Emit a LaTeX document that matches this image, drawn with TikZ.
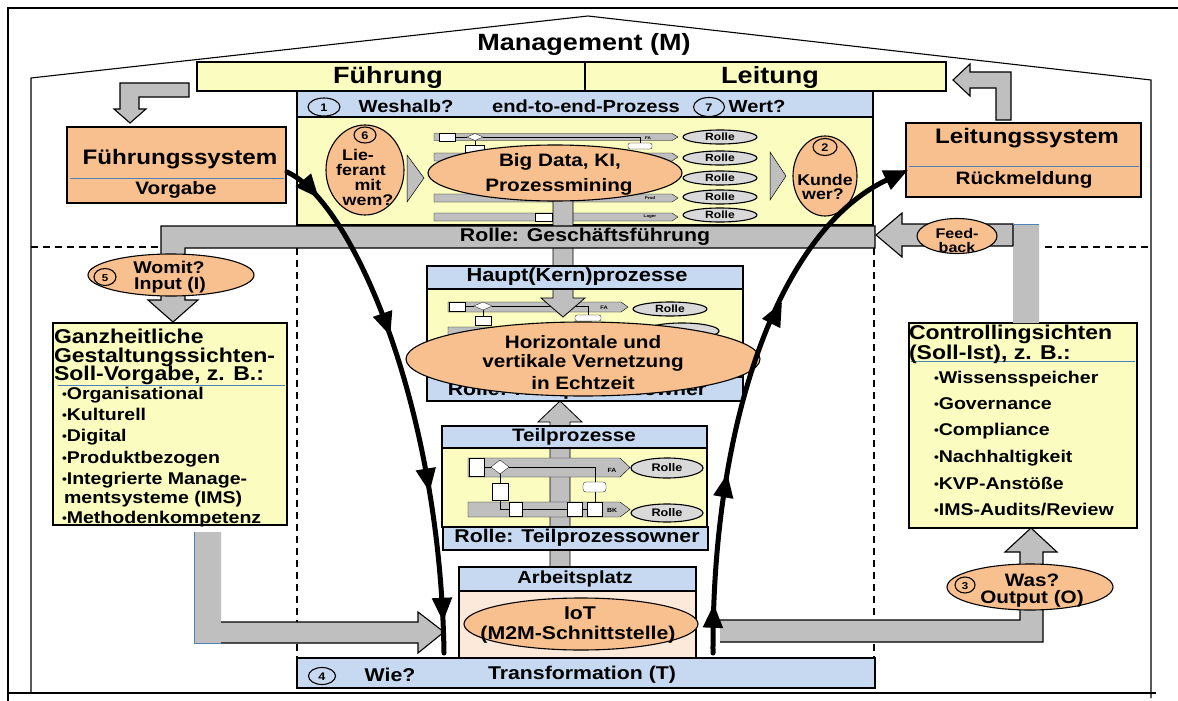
\documentclass[tikz,border=0pt]{standalone}
\usepackage{fontspec}
\setmainfont{Liberation Sans}[FakeStretch=1.15]
\usetikzlibrary{shapes.geometric,arrows.meta,decorations.markings}
\definecolor{cyel}{RGB}{250,252,192}
\definecolor{cblue}{RGB}{198,217,240}
\definecolor{corange}{RGB}{249,192,143}
\definecolor{cgray}{RGB}{191,191,191}
\definecolor{cpeach}{RGB}{253,233,217}
\definecolor{clg}{RGB}{217,217,217}
\definecolor{cline}{RGB}{79,129,189}
\newcommand{\fz}[1]{\fontsize{#1}{#1}\selectfont\bfseries}
\newcommand{\bul}{{\fontsize{12}{12}\selectfont\raisebox{1pt}{•}}}
\newcommand{\lane}[5]{\draw[fill=cgray, line width=0.4pt] (#1,{#3-#4/2}) -- (#2,{#3-#4/2}) -- ({#2+#5},#3) -- (#2,{#3+#4/2}) -- (#1,{#3+#4/2}) -- cycle;}
\newcommand{\wb}[4]{\draw[fill=white, line width=0.3pt] (#1,#2) rectangle (#3,#4);}
\begin{document}
\begin{tikzpicture}[x=1pt,y=-1pt,
  t/.style={font=\fz{#1}, inner sep=0pt, outer sep=0pt},
  ob/.style={draw=black, line width=1.1pt},
  ell/.style={ellipse, draw=black, line width=1.1pt, inner sep=0pt, outer sep=0pt},
  garrow/.style={fill=cgray, draw=black, line width=1.1pt},
  dsh/.style={line width=1.4pt, dash pattern=on 7pt off 5pt},
  curve/.style={line width=5pt, draw=black, line cap=round},
  mk/.style={postaction={decorate}},
  tri/.tip={Triangle[length=24pt,width=19pt]}
  ]
\useasboundingbox (0,0) rectangle (1178,701);
\fill[white] (0,0) rectangle (1178,701);
% frame and house
\draw[line width=2.5pt] (8,701) -- (8,8) -- (1178,8);
\draw[line width=1.8pt] (8,693) -- (1156,693);
\draw[line width=1.1pt] (31,693) -- (31,78) -- (588,16) -- (1151,80) -- (1151,698);
% dashed lines
\draw[dsh] (31,247) -- (161,247);
\draw[dsh] (1045,247) -- (1151,247);
\draw[dsh] (297,248) -- (297,688);
\draw[dsh] (874,248) -- (874,688);
% Management
\node[t=23.5] (mgmt) at (584,44) {Management (M)};
\draw[ob, fill=cyel] (197,62) rectangle (946,91);
\draw[line width=1.1pt] (585,62) -- (585,91);
\node[t=23.5] (fuehr) at (388,77) {Führung};
\node[t=23.5] (leit) at (770,77) {Leitung};
% grey arrows top
\draw[garrow] (189,83) -- (120,83) -- (120,109) -- (114,109) -- (130,123) -- (146,109) -- (139,109) -- (139,97) -- (189,97) -- cycle;
\draw[garrow] (1011,120) -- (1011,72) -- (970,72) -- (970,64) -- (953,80) -- (970,96) -- (970,88) -- (996,88) -- (996,120) -- cycle;
% Fuehrungssystem
\draw[ob, fill=corange] (67,127) rectangle (286,203);
\draw[cline, line width=0.8pt] (70,178) -- (284,178);
\node[t=21] (fsys) at (180,159) {Führungssystem};
\node[t=18] (vorg) at (176,190) {Vorgabe};
% Leitungssystem
\draw[ob, fill=corange] (906,123) rectangle (1141,197);
\draw[cline, line width=0.8pt] (909,166) -- (1139,166);
\node[t=21] (lsys) at (1027,138) {Leitungssystem};
\node[t=18] (rueck) at (1024,180) {Rückmeldung};
% top process area
\draw[ob, fill=cyel] (297,117) rectangle (873,225);
\draw[ob, fill=cblue] (297,91) rectangle (873,117);
\node[ell, minimum width=32pt, minimum height=18pt] (c1) at (324,107) {};
\node[t=11] (n1) at (324,108) {1};
\node[t=17.5] (wesh) at (406,106) {Weshalb?};
\node[t=17.5] (e2e) at (586,106) {end-to-end-Prozess};
\node[ell, minimum width=31pt, minimum height=19pt] (c7) at (709,107) {};
\node[t=11] (n7) at (709,108) {7};
\node[t=17.5] (wert) at (757,106) {Wert?};
\lane{434}{672}{137}{7}{6}
\lane{434}{672}{157}{8}{6}
\lane{434}{672}{177}{8}{6}
\lane{434}{672}{198}{8}{6}
\lane{434}{672}{217}{8}{6}
\wb{439}{133}{455}{141}
\draw[fill=white, line width=0.3pt] (467,137) -- (475,133.5) -- (483,137) -- (475,140.5) -- cycle;
\draw[line width=0.3pt] (455,137) -- (467,137) (475,140.5) -- (475,145) (483,137) -- (640,137) -- (640,143);
\wb{465}{145}{484}{152}
\draw[fill=white, line width=0.3pt, rounded corners=2pt] (628,143) rectangle (652,149);
\wb{535}{213}{552}{221}
\node[t=4] (fa0) at (648,138) {FA};
\node[t=4] (prod0) at (650,198) {Prod};
\node[t=4] (lag0) at (650,217) {Lager};
% Haupt body
\draw[ob, fill=cyel] (427,289) rectangle (743,401);
\lane{448}{621}{307}{10}{7}
\lane{448}{640}{334}{14}{7}
\wb{449}{302}{465}{311}
\draw[fill=white, line width=0.3pt] (474,306) -- (483,302) -- (492,306) -- (483,310) -- cycle;
\draw[line width=0.3pt] (465,306) -- (474,306) (483,310) -- (483,316) (492,306) -- (588,306) -- (588,315);
\wb{475}{316}{491}{325}
\draw[fill=white, line width=0.3pt, rounded corners=2pt] (575,315) rectangle (601,321);
\node[t=5] (fa1) at (604,308) {FA};
\node[ell, fill=clg, minimum width=74pt, minimum height=14pt] (rh1) at (670,309) {};
\node[t=10.5] (rh1t) at (670,309) {Rolle};
\node[ell, fill=clg, minimum width=74pt, minimum height=16pt] (rh2) at (682,331) {};
% down shaft
\draw[garrow, line width=0.8pt] (553,200) -- (573,200) -- (573,298) -- (585,298) -- (563,317) -- (541,298) -- (553,298) -- cycle;
% ellipses in top area
\node[ell, fill=corange, minimum width=254pt, minimum height=56pt] (bigd) at (555,173) {};
\node[t=18] (bigd1) at (560,162) {Big Data, KI,};
\node[t=18] (bigd2) at (559,187) {Prozessmining};
\node[ell, fill=corange, minimum width=78pt, minimum height=90pt] (lief) at (365,170) {};
\node[ell, minimum width=22pt, minimum height=16pt] (c6) at (365,135) {};
\node[t=11] (n6) at (365,136) {6};
\node[t=15.5] (lief1) at (358,155) {Lie-};
\node[t=15.5] (lief2) at (361,170) {ferant};
\node[t=15.5] (lief3) at (368,185) {mit};
\node[t=15.5] (lief4) at (368,200) {wem?};
\draw[fill=cgray, line width=0.5pt] (407,155) -- (424,178) -- (407,202) -- cycle;
\draw[fill=cgray, line width=0.5pt] (770,152) -- (786,176) -- (770,200) -- cycle;
\foreach \yy/\nm in {137/ra,158/rb,178/rc,197/rd,215/re}{
  \node[ell, fill=clg, minimum width=74pt, minimum height=14pt] (\nm) at (720,\yy) {};
  \node[t=10.5] (\nm t) at (720,\yy) {Rolle};
}
\node[ell, fill=corange, minimum width=64pt, minimum height=80pt] (kunde) at (825,176) {};
\node[ell, minimum width=24pt, minimum height=17pt] (c2) at (825,147) {};
\node[t=11] (n2) at (825,148) {2};
\node[t=15.5] (kunde1) at (825,180) {Kunde};
\node[t=15.5] (kunde2) at (823,194) {wer?};
% grey bar Rolle: Geschaeftsfuehrung
\draw[garrow] (875,226) -- (161,226) -- (161,300) -- (148,300) -- (173,322) -- (198,300) -- (185,300) -- (185,248) -- (875,248) -- cycle;
\node[t=18.5] (gf) at (585,237) {Rolle: Geschäftsführung};
\node[ell, fill=corange, minimum width=166pt, minimum height=42pt] (womit) at (171,275) {};
\node[ell, minimum width=22pt, minimum height=17pt] (c5) at (105,277) {};
\node[t=10] (n5) at (105,278) {5};
\node[t=17] (womit1) at (169,267) {Womit?};
\node[t=17] (womit2) at (170,285) {Input (I)};
% Haupt header/footer
\draw[ob, fill=cblue] (427,266) rectangle (743,289);
\node[t=19] (haupt) at (577,277) {Haupt(Kern)prozesse};
\draw[ob, fill=cblue] (427,377) rectangle (743,401);
\node[t=18.5] (kpo) at (577,391) {Rolle: Kernprozessowner};
\node[ell, fill=corange, minimum width=354pt, minimum height=74pt] (horiz) at (583,359) {};
\node[t=18] (hz1) at (583,342) {Horizontale und};
\node[t=18] (hz2) at (583,363) {vertikale Vernetzung};
\node[t=18] (hz3) at (583,383) {in Echtzeit};
% Teilprozesse
\draw[ob, fill=cyel] (442,448) rectangle (707,527);
\draw[garrow, line width=0.8pt] (550,567) -- (550,422) -- (538,422) -- (560,401) -- (582,422) -- (570,422) -- (570,567) -- cycle;
\lane{468}{620}{467.5}{19}{10}
\lane{468}{620}{509.5}{15}{10}
\wb{469}{458}{484}{476}
\draw[fill=white, line width=0.3pt] (491,467) -- (500,460) -- (509,467) -- (500,474) -- cycle;
\draw[line width=0.4pt] (484,467) -- (491,467) (509,467) -- (595,467) -- (595,482) (500,474) -- (500,483) (500,500) -- (500,509) -- (509,509) (522,509) -- (567,509) (582,509) -- (587,509) (595,492) -- (595,502);
\wb{492}{483}{508}{500}
\draw[fill=white, line width=0.3pt, rounded corners=3pt] (583,482) rectangle (606,492);
\wb{509}{502}{522}{516}
\wb{567}{502}{582}{516}
\wb{587}{502}{602}{516}
\node[t=6] (fa2) at (612,470) {FA};
\node[t=6] (bk2) at (612,510) {BK};
\node[ell, fill=clg, minimum width=72pt, minimum height=20pt] (rt1) at (667,468) {};
\node[t=11] (rt1t) at (667,468) {Rolle};
\node[ell, fill=clg, minimum width=72pt, minimum height=18pt] (rt2) at (667,513) {};
\node[t=11] (rt2t) at (667,513) {Rolle};
\draw[ob, fill=cblue] (442,426) rectangle (707,448);
\node[t=18] (teil) at (574,437) {Teilprozesse};
\draw[ob, fill=cblue] (443,527) rectangle (708,550);
\node[t=18.5] (tpo) at (577,538) {Rolle: Teilprozessowner};
% Arbeitsplatz
\draw[ob, fill=cpeach] (459,591) rectangle (696,658);
\draw[ob, fill=cblue] (459,567) rectangle (696,591);
\node[t=17.5] (arb) at (575,579) {Arbeitsplatz};
\node[ell, fill=corange, minimum width=234pt, minimum height=52pt] (iot) at (581,624) {};
\node[t=18.5] (iot1) at (580,613) {IoT};
\node[t=18.5] (iot2) at (578,635) {(M2M-Schnittstelle)};
% bottom bar
\draw[ob, fill=cblue] (297,658) rectangle (875,688);
\node[ell, minimum width=27pt, minimum height=17pt] (c4) at (322,676) {};
\node[t=11] (n4) at (322,677) {4};
\node[t=18.5] (wie) at (390,675) {Wie?};
\node[t=18.5] (trans) at (582,675) {Transformation (T)};
% Ganzheitliche
\draw[ob, fill=cyel] (53,323) rectangle (287,525);
\draw[cline, line width=0.8pt] (58,385) -- (285,385);
\node[t=20, anchor=base west] (g1) at (54,343) {Ganzheitliche};
\node[t=20, anchor=base west] (g2) at (54,362) {Gestaltungssichten-};
\node[t=20, anchor=base west] (g3) at (54,380) {Soll-Vorgabe, z. B.:};
\node[t=17, anchor=base west] (g4) at (62,399) {\bul Organisational};
\node[t=17, anchor=base west] (g5) at (62,420) {\bul Kulturell};
\node[t=17, anchor=base west] (g6) at (62,441) {\bul Digital};
\node[t=17, anchor=base west] (g7) at (62,463) {\bul Produktbezogen};
\node[t=17, anchor=base west] (g8) at (62,484) {\bul Integrierte Manage-};
\node[t=17, anchor=base west] (g9) at (64,503) {mentsysteme (IMS)};
\node[t=17, anchor=base west] (g10) at (62,523) {\bul Methodenkompetenz};
% Controlling
\draw[ob, fill=cyel] (909,323) rectangle (1137,528);
\draw[cline, line width=0.8pt] (911,361) -- (1135,361);
\node[t=20, anchor=base west] (k1) at (909,339) {Controllingsichten};
\node[t=20, anchor=base west] (k2) at (909,359) {(Soll-Ist), z. B.:};
\node[t=17, anchor=base west] (k3) at (934,383) {\bul Wissensspeicher};
\node[t=17, anchor=base west] (k4) at (934,409) {\bul Governance};
\node[t=17, anchor=base west] (k5) at (934,435) {\bul Compliance};
\node[t=17, anchor=base west] (k6) at (934,462) {\bul Nachhaltigkeit};
\node[t=17, anchor=base west] (k7) at (934,489) {\bul KVP-Anstöße};
\node[t=17, anchor=base west] (k8) at (934,515) {\bul IMS-Audits/Review};
% Feedback arrow
\fill[cgray] (1039,323) -- (1039,224) -- (902,224) -- (902,213) -- (876,235) -- (902,257) -- (902,246) -- (1013,246) -- (1013,323) -- cycle;
\draw[line width=1.1pt] (1013,246) -- (1013,224) -- (902,224) -- (902,213) -- (876,235) -- (902,257) -- (902,246) -- (1013,246);
\draw[cline, line width=0.8pt] (1013,224) -- (1039,224);
\node[ell, fill=corange, minimum width=80pt, minimum height=35pt] (feed) at (957,236) {};
\node[t=14] (feed1) at (957,233) {Feed-};
\node[t=14] (feed2) at (957,247) {back};
% bottom-left arrow
\fill[cgray] (194,532) -- (221,532) -- (221,622) -- (418,622) -- (418,612) -- (444,632) -- (418,653) -- (418,643) -- (194,643) -- cycle;
\draw[line width=1.1pt] (221,622) -- (418,622) -- (418,612) -- (444,632) -- (418,653) -- (418,643) -- (221,643);
\draw[cline, line width=0.8pt] (194,532) -- (194,643) -- (221,643);
% Was arrow
\fill[cgray] (720,620) -- (1020,620) -- (1020,552) -- (1005,552) -- (1031,528) -- (1057,552) -- (1043,552) -- (1043,642) -- (720,642) -- cycle;
\draw[line width=1.1pt] (720,620) -- (1020,620) -- (1020,552) -- (1005,552) -- (1031,528) -- (1057,552) -- (1043,552) -- (1043,642) -- (720,642);
\node[ell, fill=corange, minimum width=166pt, minimum height=46pt] (was) at (1030,587) {};
\node[ell, minimum width=20pt, minimum height=16pt] (c3) at (965,585) {};
\node[t=10] (n3) at (965,586) {3};
\node[t=18] (was1) at (1032,580) {Was?};
\node[t=18] (was2) at (1032,599) {Output (O)};
% black curves
\coordinate (lc0) at (287,172);
\coordinate (lc1) at (444,653);
\coordinate (rc0) at (713,653);
\coordinate (rc1) at (908,170);
\draw[curve, mk, decoration={markings,
   mark=at position 0.08 with {\arrow{tri}},
   mark=at position 0.38 with {\arrow{tri}},
   mark=at position 0.69 with {\arrow{tri}},
   mark=at position 0.94 with {\arrow{tri}}}]
  (lc0) .. controls (350,200) and (440,400) .. (lc1);
\draw[curve, -{Triangle[length=24pt,width=20pt]}, mk, decoration={markings,
   mark=at position 0.09 with {\arrow{tri}},
   mark=at position 0.33 with {\arrow{tri}},
   mark=at position 0.66 with {\arrow{tri}}}]
  (rc0) .. controls (712,420) and (780,230) .. (rc1);
\end{tikzpicture}
\end{document}
